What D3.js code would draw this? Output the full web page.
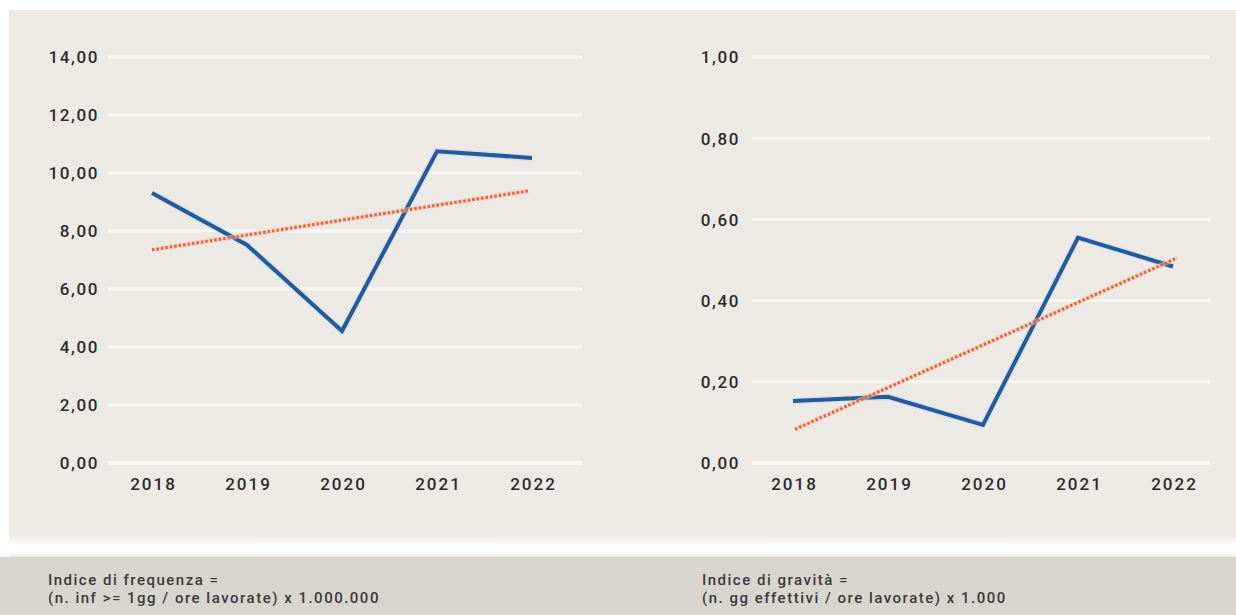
<!DOCTYPE html>
<html><head><meta charset="utf-8">
<script src="https://cdn.jsdelivr.net/npm/d3@7"></script>
<style>
html,body{margin:0;padding:0;background:#fff;}
svg{display:block;}
text{font-family:"Roboto","Liberation Sans",sans-serif;}
</style></head>
<body>
<svg id="c" width="1236" height="615"></svg>
<script>
const years = ["2018","2019","2020","2021","2022"];
const freqValues = [9.31, 7.52, 4.55, 10.75, 10.52];
const freqTrend = [7.35, 9.38];
const freqTicks = [0,2,4,6,8,10,12,14];
const gravValues = [0.153, 0.163, 0.094, 0.555, 0.484];
const gravTrend = [0.083, 0.505];
const gravTicks = [0,0.2,0.4,0.6,0.8,1.0];
const footLeft = ["Indice di frequenza =", "(n. inf >= 1gg / ore lavorate) x 1.000.000"];
const footRight = ["Indice di gravità =", "(n. gg effettivi / ore lavorate) x 1.000"];

const svg = d3.select("#c");
const defs = svg.append("defs");
const gr = defs.append("linearGradient").attr("id","gap").attr("x1",0).attr("x2",0).attr("y1",0).attr("y2",1);
gr.append("stop").attr("offset","0%").attr("stop-color","#edeae5");
gr.append("stop").attr("offset","45%").attr("stop-color","#ffffff");
gr.append("stop").attr("offset","80%").attr("stop-color","#ffffff");
gr.append("stop").attr("offset","100%").attr("stop-color","#ece9e4");
// panels
svg.append("rect").attr("x",9).attr("y",10).attr("width",1227).attr("height",525).attr("fill","#edeae5");
svg.append("rect").attr("x",9).attr("y",535).attr("width",1227).attr("height",22).attr("fill","url(#gap)");
svg.append("rect").attr("x",0).attr("y",557).attr("width",1236).attr("height",58).attr("fill","#d8d5cf");

const fmt = v => d3.format(".2f")(v).replace(".", ",");

function chart(cfg){
  const g = svg.append("g");
  const y = d3.scaleLinear().domain(cfg.domain).range([463,57]);
  const x = d3.scalePoint().domain(years).range(cfg.xr);
  // grid
  g.selectAll("line.grid").data(cfg.ticks).join("line")
    .attr("x1",cfg.gx[0]).attr("x2",cfg.gx[1])
    .attr("y1",d=>y(d)).attr("y2",d=>y(d))
    .attr("stroke","#f9f7f3").attr("stroke-width",d=>d===0?4:3);
  // y axis
  const ya = d3.axisLeft(y).tickValues(cfg.ticks).tickFormat(fmt).tickSize(0).tickPadding(0);
  const yg = g.append("g").attr("transform",`translate(${cfg.lx},0)`).call(ya);
  yg.select(".domain").remove();
  yg.selectAll("text").attr("fill","#2b2b2b").attr("font-size",17).attr("font-weight",500)
    .attr("letter-spacing","1.6px").attr("dy","0.35em");
  // x axis
  const xa = d3.axisBottom(x).tickSize(0).tickPadding(0);
  const xg = g.append("g").attr("transform","translate(1,478)").call(xa);
  xg.select(".domain").remove();
  xg.selectAll("text").attr("fill","#2b2b2b").attr("font-size",17).attr("font-weight",500)
    .attr("letter-spacing","2px");
  // series line
  const line = d3.line().x((d,i)=>x(years[i])).y(d=>y(d));
  g.append("path").datum(cfg.values).attr("d",line)
    .attr("fill","none").attr("stroke","#c9e0f5").attr("stroke-width",7).attr("opacity",0.6).attr("stroke-linejoin","miter");
  g.append("path").datum(cfg.values).attr("d",line)
    .attr("fill","none").attr("stroke","#24599a").attr("stroke-width",4).attr("stroke-linejoin","miter");
  // trend
  const tx = [x(years[0]) + cfg.tOff[0], x(years[years.length-1]) + cfg.tOff[1]];
  g.append("line").attr("x1",tx[0]).attr("x2",tx[1])
    .attr("y1",y(cfg.trend[0])).attr("y2",y(cfg.trend[1]))
    .attr("stroke","#f7c9a6").attr("stroke-width",5).attr("opacity",0.55);
  g.append("line").attr("x1",tx[0]).attr("x2",tx[1])
    .attr("y1",y(cfg.trend[0])).attr("y2",y(cfg.trend[1]))
    .attr("stroke","#dc644a").attr("stroke-width",3).attr("stroke-dasharray","2.5,2");
  // footer
  const ft = svg.append("text").attr("x",cfg.fx).attr("y",585).attr("fill","#3a3a3a")
    .attr("font-size",15).attr("font-weight",500).attr("letter-spacing","1.5px");
  cfg.foot.forEach((t,i)=>ft.append("tspan").attr("x",cfg.fx).attr("dy",i?18:0).text(t));
}

chart({domain:[0,14], ticks:freqTicks, values:freqValues, trend:freqTrend,
  xr:[152,532], gx:[108,582], lx:99, tOff:[0,-4], fx:48, foot:footLeft});
chart({domain:[0,1], ticks:gravTicks, values:gravValues, trend:gravTrend,
  xr:[793,1173], gx:[752,1210], lx:740, tOff:[2,4], fx:702, foot:footRight});
</script>
</body></html>
